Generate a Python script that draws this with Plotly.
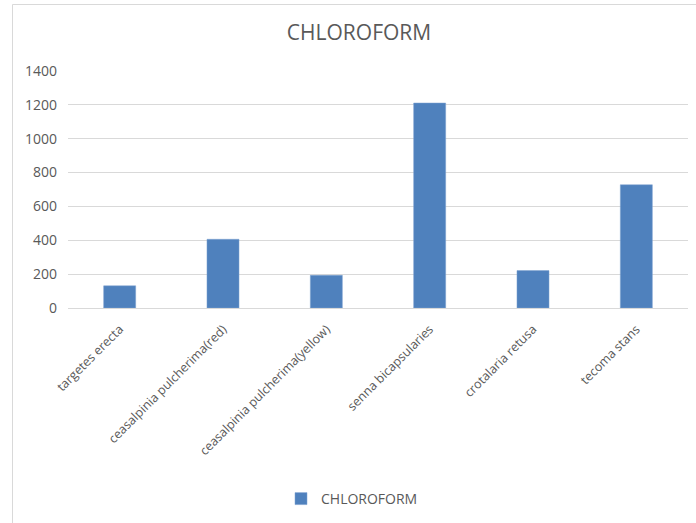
import plotly.graph_objects as go

categories = [
    "targetes erecta",
    "ceasalpinia pulcherima(red)",
    "ceasalpinia pulcherima(yellow)",
    "senna bicapsularies",
    "crotalaria retusa",
    "tecoma stans",
]
chloroform = [131, 406, 193, 1211, 221, 728]
y_ticks = [0, 200, 400, 600, 800, 1000, 1200, 1400]
series_name = "CHLOROFORM"
title_text = "CHLOROFORM"

W, H = 696, 523
ml, mr, mt, mb = 68, 8, 71, 215
ph = H - mt - mb

def px_to_paper_y(py):
    return (H - mb - py) / ph

def px_to_paper_x(pxv):
    return (pxv - ml) / (W - ml - mr)

fig = go.Figure()
fig.add_trace(go.Bar(
    x=categories, y=chloroform, name=series_name,
    marker=dict(color="#4f81bd", line=dict(color="#7fa3d1", width=0.5)),
    showlegend=True,
))

fig.update_layout(
    width=W, height=H,
    margin=dict(l=ml, r=mr, t=mt, b=mb),
    paper_bgcolor="white", plot_bgcolor="white",
    font=dict(family="Open Sans", color="#595959"),
    bargap=0.69,
    title=dict(text=title_text, x=359 / W, xref="container", xanchor="center",
               y=1 - 33 / H, yref="container", yanchor="middle",
               font=dict(size=21, color="#595959", family="Open Sans")),
    xaxis=dict(showgrid=False, tickangle=-45, ticks="", showline=True,
               linecolor="#d9d9d9", linewidth=1, ticklabelstandoff=8,
               tickfont=dict(size=12.5, color="#595959")),
    yaxis=dict(range=[0, 1400], tickvals=y_ticks, showgrid=True,
               gridcolor="#d9d9d9", gridwidth=1, zeroline=False,
               showline=False, ticks="", ticklen=0, ticklabelstandoff=10,
               tickfont=dict(size=14, color="#595959")),
    legend=dict(orientation="h", x=px_to_paper_x(281), xanchor="left",
                y=px_to_paper_y(499), yanchor="middle",
                font=dict(size=14, color="#595959")),
    shapes=[
        dict(type="rect", xref="paper", yref="paper",
             x0=px_to_paper_x(12.5), x1=px_to_paper_x(720),
             y0=px_to_paper_y(540), y1=px_to_paper_y(4.5),
             line=dict(color="#d9d9d9", width=1), fillcolor="rgba(0,0,0,0)",
             layer="below"),
    ],
)

fig.write_html("out.html")
